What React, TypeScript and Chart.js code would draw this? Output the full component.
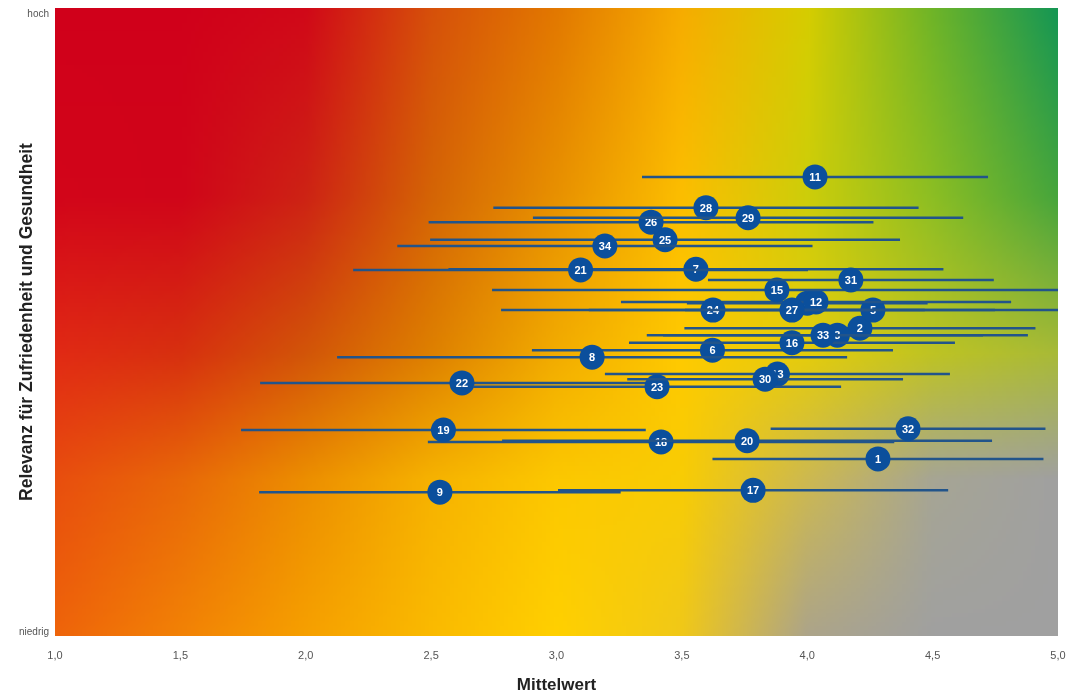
import React, { useEffect, useRef } from 'react';
import { Chart, registerables } from 'chart.js';

Chart.register(...registerables);

// ---- data ----
const ids = ['1', '2', '3', '4', '5', '6', '7', '8', '9', '11', '12', '13', '15', '16', '17', '18', '19', '20', '21', '22', '23', '24', '25', '26', '27', '28', '29', '30', '31', '32', '33', '34'];
const means = [4.282, 4.21, 4.12, 4.0, 4.262, 3.622, 3.556, 3.142, 2.535, 4.031, 4.035, 3.881, 3.879, 3.939, 3.784, 3.417, 2.549, 3.76, 3.096, 2.623, 3.401, 3.624, 3.433, 3.377, 3.939, 3.596, 3.764, 3.832, 4.174, 4.402, 4.063, 3.193];
const sds = [0.66, 0.7, 0.76, 0.48, 0.75, 0.72, 0.987, 1.017, 0.721, 0.69, 0.778, 0.688, 1.136, 0.65, 0.778, 0.93, 0.807, 0.977, 0.907, 0.805, 0.734, 0.845, 0.937, 0.887, 0.81, 0.848, 0.858, 0.55, 0.57, 0.548, 0.638, 0.828];
const relevance = [28.2, 49.0, 47.9, 53.0, 51.9, 45.5, 58.4, 44.4, 22.9, 73.1, 53.2, 41.7, 55.1, 46.7, 23.2, 30.9, 32.8, 31.1, 58.3, 40.3, 39.7, 51.9, 63.1, 65.9, 51.9, 68.2, 66.6, 40.9, 56.7, 33.0, 47.9, 62.1];
const xTickValues = [1, 1.5, 2, 2.5, 3, 3.5, 4, 4.5, 5];
const yTickValues = [0.6, 99];
const yTickLabels = ['niedrig', 'hoch'];

// ---- background colour field (x in value units, v = 0 top .. 1 bottom) ----
const bgCols = [1, 1.5, 2, 2.5, 3, 3.5, 4, 4.5, 5];
const bgRows = [0, 0.3, 0.55, 0.75, 1];
const bgGrid: number[][][] = [
  [[208, 0, 26], [208, 0, 26], [208, 8, 24], [214, 80, 10], [226, 120, 0], [246, 172, 0], [214, 205, 0], [110, 180, 40], [20, 150, 85]],
  [[210, 5, 25], [208, 5, 25], [205, 35, 20], [212, 100, 5], [232, 145, 0], [252, 190, 0], [205, 205, 10], [140, 190, 35], [70, 165, 60]],
  [[225, 42, 20], [215, 48, 15], [210, 85, 8], [222, 128, 0], [242, 172, 0], [255, 202, 0], [228, 204, 12], [190, 195, 35], [168, 186, 55]],
  [[232, 78, 14], [232, 104, 8], [236, 142, 0], [246, 178, 0], [252, 200, 0], [248, 204, 4], [205, 185, 80], [166, 165, 148], [160, 160, 160]],
  [[238, 100, 10], [242, 130, 5], [246, 160, 0], [250, 186, 0], [255, 208, 0], [240, 200, 25], [172, 164, 138], [160, 160, 160], [160, 160, 160]],
];

function seg(arr: number[], t: number): [number, number] {
  for (let i = 0; i < arr.length - 1; i++) {
    if (t <= arr[i + 1]) return [i, (t - arr[i]) / (arr[i + 1] - arr[i])];
  }
  return [arr.length - 2, 1];
}

let bgCanvas: HTMLCanvasElement | null = null;
function getBg(): HTMLCanvasElement {
  if (bgCanvas) return bgCanvas;
  const W = 240, H = 150;
  const c = document.createElement('canvas');
  c.width = W; c.height = H;
  const g = c.getContext('2d')!;
  const img = g.createImageData(W, H);
  for (let j = 0; j < H; j++) {
    const v = (j + 0.5) / H;
    const [ri, rt] = seg(bgRows, v);
    for (let i = 0; i < W; i++) {
      const x = 1 + 4 * (i + 0.5) / W;
      const [ci, ct] = seg(bgCols, x);
      const k = (j * W + i) * 4;
      for (let ch = 0; ch < 3; ch++) {
        const a = bgGrid[ri][ci][ch] * (1 - ct) + bgGrid[ri][ci + 1][ch] * ct;
        const b = bgGrid[ri + 1][ci][ch] * (1 - ct) + bgGrid[ri + 1][ci + 1][ch] * ct;
        img.data[k + ch] = a * (1 - rt) + b * rt;
      }
      img.data[k + 3] = 255;
    }
  }
  g.putImageData(img, 0, 0);
  bgCanvas = c;
  return c;
}

const backgroundPlugin = {
  id: 'gradientBackground',
  beforeDraw(chart: any) {
    const { ctx, chartArea: a } = chart;
    ctx.save();
    ctx.imageSmoothingEnabled = true;
    ctx.drawImage(getBg(), a.left, a.top, a.right - a.left, a.bottom - a.top);
    ctx.restore();
  },
};

const errorBarPlugin = {
  id: 'errorBars',
  beforeDatasetDraw(chart: any, args: any) {
    const { ctx, chartArea: a, scales } = chart;
    const ds = chart.data.datasets[args.index];
    const p = ds.data[0];
    const y = scales.y.getPixelForValue(p.y);
    const x1 = scales.x.getPixelForValue(p.x - p.sd);
    const x2 = scales.x.getPixelForValue(p.x + p.sd);
    ctx.save();
    ctx.beginPath();
    ctx.rect(a.left, a.top, a.right - a.left, a.bottom - a.top);
    ctx.clip();
    ctx.strokeStyle = '#22548a';
    ctx.lineWidth = 2.5;
    ctx.beginPath();
    ctx.moveTo(x1, y);
    ctx.lineTo(x2, y);
    ctx.stroke();
    ctx.restore();
  },
  afterDatasetDraw(chart: any, args: any) {
    const { ctx } = chart;
    const ds = chart.data.datasets[args.index];
    const el = args.meta.data[0];
    ctx.save();
    ctx.fillStyle = '#ffffff';
    ctx.font = 'bold 11px "Liberation Sans", Arial, sans-serif';
    ctx.textAlign = 'center';
    ctx.textBaseline = 'middle';
    ctx.fillText(ds.label, el.x, el.y + 1);
    ctx.restore();
  },
};

export default function App() {
  const ref = useRef<HTMLCanvasElement>(null);

  useEffect(() => {
    if (!ref.current) return;
    const n = ids.length;
    const datasets = ids.map((id, i) => ({
      label: id,
      data: [{ x: means[i], y: relevance[i], sd: sds[i] }],
      order: n - i,
      pointRadius: 12.5,
      pointHoverRadius: 12.5,
      pointBackgroundColor: '#0b4f9c',
      pointBorderWidth: 0,
      borderWidth: 0,
      showLine: false,
      clip: false,
    }));
    const chart = new Chart(ref.current, {
      type: 'scatter',
      data: { datasets: datasets as any },
      options: {
        animation: false,
        responsive: false,
        events: [],
        layout: { autoPadding: false, padding: { top: 8, right: 11, left: 0, bottom: 0 } },
        plugins: { legend: { display: false }, tooltip: { enabled: false }, title: { display: false } },
        scales: {
          x: {
            type: 'linear',
            min: 1,
            max: 5,
            afterBuildTicks: (s: any) => { s.ticks = xTickValues.map((v) => ({ value: v })); },
            afterFit: (s: any) => { s.height = 60; s.paddingLeft = 0; s.paddingRight = 0; },
            grid: { display: false, drawTicks: false, tickLength: 0 },
            border: { display: false },
            ticks: {
              padding: 13,
              color: '#555555',
              font: { size: 11, family: '"Liberation Sans Narrow", "Liberation Sans", Arial, sans-serif' },
              maxRotation: 0,
              autoSkip: false,
              callback: (v: any) => Number(v).toFixed(1).replace('.', ','),
            },
            title: {
              display: true,
              text: 'Mittelwert',
              color: '#222222',
              padding: { top: 0, bottom: 0 },
              font: { size: 17, weight: 'bold', family: '"Liberation Sans Narrow", "Liberation Sans", Arial, sans-serif' },
            },
          },
          y: {
            type: 'linear',
            min: 0,
            max: 100,
            afterBuildTicks: (s: any) => { s.ticks = yTickValues.map((v) => ({ value: v })); },
            afterFit: (s: any) => { s.width = 55; s.paddingTop = 0; s.paddingBottom = 0; },
            grid: { display: false, drawTicks: false, tickLength: 0 },
            border: { display: false },
            ticks: {
              padding: 6,
              color: '#555555',
              font: { size: 10, family: '"Liberation Sans", Arial, sans-serif' },
              autoSkip: false,
              callback: (v: any, i: number) => yTickLabels[i] ?? '',
            },
            title: {
              display: true,
              text: 'Relevanz für Zufriedenheit und Gesundheit',
              color: '#222222',
              padding: { top: 17, bottom: 0 },
              font: { size: 17.5, weight: 'bold', family: '"Liberation Sans", Arial, sans-serif' },
            },
          },
        },
      } as any,
      plugins: [backgroundPlugin, errorBarPlugin],
    });
    return () => chart.destroy();
  }, []);

  return (
    <div style={{ position: 'absolute', left: 0, top: 0, width: 1069, height: 696, background: '#fff' }}>
      <canvas ref={ref} width={1069} height={696} style={{ display: 'block', width: 1069, height: 696 }} />
    </div>
  );
}
